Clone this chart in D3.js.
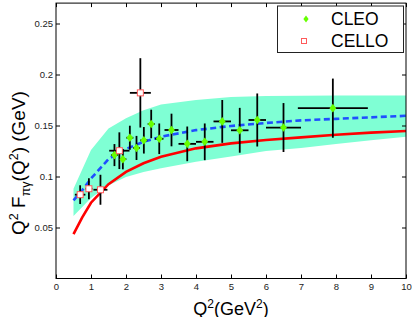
<!DOCTYPE html>
<html><head><meta charset="utf-8">
<script src="https://cdn.jsdelivr.net/npm/d3@7"></script>
<style>
html,body{margin:0;padding:0;background:#fff;}
svg text{font-family:"Liberation Sans",Arial,Helvetica,sans-serif;}
</style></head>
<body><svg id="c" width="415" height="317"></svg>
<script>
// ---- data ----
const cleoQ2   = [1.67, 1.91, 2.11, 2.30, 2.51, 2.72, 2.95, 3.30, 3.75, 4.25, 4.75, 5.25, 5.75, 6.50, 7.91];
const cleoF    = [0.121, 0.117, 0.138, 0.128, 0.1355, 0.1515, 0.137, 0.1456, 0.132, 0.134, 0.154, 0.1453, 0.1554, 0.148, 0.167];
const cleoErrY = [0.0108, 0.010, 0.0118, 0.0118, 0.013, 0.014, 0.015, 0.016, 0.017, 0.018, 0.021, 0.022, 0.026, 0.024, 0.029];
const cleoErrX = [0.1, 0.1, 0.1, 0.1, 0.1, 0.1, 0.12, 0.2, 0.25, 0.25, 0.25, 0.25, 0.25, 0.5, 1.0];

const celloQ2   = [0.69, 0.94, 1.27, 1.81, 2.41];
const celloF    = [0.0822, 0.088, 0.087, 0.1253, 0.182];
const celloErrY = [0.0092, 0.0103, 0.0147, 0.018, 0.034];
const celloErrX = [0.15, 0.1, 0.2, 0.29, 0.30];

const curveQ2   = [0.5, 0.75, 1, 1.5, 2, 2.5, 3, 4, 5, 6, 7, 8, 9, 10];
const redCurve  = [0.0436, 0.060, 0.0743, 0.0925, 0.1045, 0.113, 0.1194, 0.1276, 0.1325, 0.1358, 0.1384, 0.141, 0.143, 0.1446];
const blueCurve = [0.0765, 0.0865, 0.098, 0.117, 0.127, 0.134, 0.139, 0.1455, 0.1495, 0.1525, 0.155, 0.1565, 0.158, 0.1595];

const bandQ2   = [0.5, 1, 1.5, 2, 2.5, 3, 4, 5, 6, 7, 8, 9, 10];
const bandLow  = [0.0613, 0.079, 0.0915, 0.0995, 0.1045, 0.108, 0.1145, 0.1195, 0.125, 0.128, 0.1318, 0.1355, 0.139];
const bandHigh = [0.088, 0.126, 0.147, 0.157, 0.165, 0.1705, 0.175, 0.178, 0.179, 0.1792, 0.1794, 0.1795, 0.1795];

const xTicks = [0, 1, 2, 3, 4, 5, 6, 7, 8, 9, 10];
const xTickLabels = ["0", "1", "2", "3", "4", "5", "6", "7", "8", "9", "10"];
const yTicks = [0.05, 0.1, 0.15, 0.2, 0.25];
const yTickLabels = ["0.05", "0.1", "0.15", "0.2", "0.25"];
const legendLabels = ["CLEO", "CELLO"];

// ---- layout ----
const svg = d3.select("#c");
const L = 56, R = 406, T = 3.1, B = 278.5;
const x = d3.scaleLinear().domain([0, 10]).range([L, R]);
const y = d3.scaleLinear().domain([0, 0.27]).range([B, T]);

// band
const band = bandQ2.map((q, i) => ({q, lo: bandLow[i], hi: bandHigh[i]}));
svg.append("path").datum(band)
  .attr("d", d3.area().x(d => x(d.q)).y0(d => y(d.lo)).y1(d => y(d.hi)))
  .attr("fill", "#7fffd4").attr("stroke", "none");

// curves
const line = d3.line().x(d => x(d[0])).y(d => y(d[1]));
svg.append("path").datum(curveQ2.map((q, i) => [q, redCurve[i]]))
  .attr("d", line).attr("fill", "none").attr("stroke", "#ff0000").attr("stroke-width", 2.6);
svg.append("path").datum(curveQ2.map((q, i) => [q, blueCurve[i]]))
  .attr("d", line).attr("fill", "none").attr("stroke", "#1f4fff").attr("stroke-width", 2.6)
  .attr("stroke-dasharray", "6,3.5");

// error bars
function errBars(qs, fs, ey, ex) {
  const g = svg.append("g").attr("stroke", "#000").attr("stroke-width", 1.8);
  qs.forEach((q, i) => {
    g.append("line").attr("x1", x(q)).attr("x2", x(q)).attr("y1", y(fs[i] - ey[i])).attr("y2", y(fs[i] + ey[i]));
    g.append("line").attr("x1", x(q - ex[i])).attr("x2", x(q + ex[i])).attr("y1", y(fs[i])).attr("y2", y(fs[i]));
  });
}
errBars(celloQ2, celloF, celloErrY, celloErrX);
errBars(cleoQ2, cleoF, cleoErrY, cleoErrX);

// markers
const diamond = (cx, cy, w, h) => `M${cx},${cy - h}L${cx + w},${cy}L${cx},${cy + h}L${cx - w},${cy}Z`;
svg.append("g").selectAll("path").data(cleoQ2).join("path")
  .attr("d", (q, i) => diamond(x(q), y(cleoF[i]), 3.4, 4.3))
  .attr("fill", "#66ff00");
svg.append("g").selectAll("rect").data(celloQ2).join("rect")
  .attr("x", q => x(q) - 3).attr("y", (q, i) => y(celloF[i]) - 3)
  .attr("width", 6).attr("height", 6)
  .attr("fill", "#fff").attr("stroke", "#ff5a5a").attr("stroke-width", 1);

// axes
const fmtX = d => xTickLabels[xTicks.indexOf(d)];
const fmtY = d => yTickLabels[yTicks.indexOf(d)];
function styleAxis(g) {
  g.select(".domain").remove();
  g.selectAll("line").attr("stroke", "#000");
  g.selectAll("text").attr("font-size", 9.5).attr("fill", "#222")
    .style("font-family", "'Liberation Sans',Arial,sans-serif");
}
svg.append("g").attr("transform", `translate(0,${B})`)
  .call(d3.axisBottom(x).tickValues(xTicks).tickFormat(fmtX).tickSizeInner(-4).tickSizeOuter(0).tickPadding(4.5))
  .call(styleAxis);
svg.append("g").attr("transform", `translate(0,${T})`)
  .call(d3.axisTop(x).tickValues(xTicks).tickFormat("").tickSizeInner(-4).tickSizeOuter(0))
  .call(styleAxis);
svg.append("g").attr("transform", `translate(${L},0)`)
  .call(d3.axisLeft(y).tickValues(yTicks).tickFormat(fmtY).tickSizeInner(-4).tickSizeOuter(0).tickPadding(3))
  .call(styleAxis);
svg.append("g").attr("transform", `translate(${R},0)`)
  .call(d3.axisRight(y).tickValues(yTicks).tickFormat("").tickSizeInner(-4).tickSizeOuter(0))
  .call(styleAxis);
svg.append("rect").attr("x", L).attr("y", T).attr("width", R - L).attr("height", B - T)
  .attr("fill", "none").attr("stroke", "#000").attr("stroke-width", 1);

// legend
const lg = svg.append("g");
lg.append("rect").attr("x", 277.5).attr("y", 6).attr("width", 126).attr("height", 46.5)
  .attr("fill", "#fff").attr("stroke", "#222").attr("stroke-width", 1);
lg.append("path").attr("d", diamond(306, 19, 2.6, 3.6)).attr("fill", "#66ff00");
lg.append("rect").attr("x", 301.5).attr("y", 38.5).attr("width", 5).attr("height", 5)
  .attr("fill", "#fff").attr("stroke", "#ff5a5a").attr("stroke-width", 1);
lg.selectAll("text").data(legendLabels).join("text")
  .attr("x", 331).attr("y", (d, i) => i === 0 ? 25 : 46.5)
  .attr("font-size", 17.5).attr("fill", "#000").text(d => d);

// axis labels
const xl = svg.append("text").attr("x", 231).attr("y", 314.5).attr("text-anchor", "middle")
  .attr("font-size", 18).attr("fill", "#000");
xl.append("tspan").text("Q");
xl.append("tspan").attr("dy", -7).attr("font-size", 12).text("2");
xl.append("tspan").attr("dy", 7).text("(GeV");
xl.append("tspan").attr("dy", -7).attr("font-size", 12).text("2");
xl.append("tspan").attr("dy", 7).text(")");

const yl = svg.append("text").attr("transform", "translate(25,163) rotate(-90)")
  .attr("text-anchor", "middle").attr("font-size", 19).attr("fill", "#000");
yl.append("tspan").text("Q");
yl.append("tspan").attr("dy", -7.5).attr("font-size", 12.5).text("2");
yl.append("tspan").attr("dy", 7.5).text("\u00a0F");
yl.append("tspan").attr("dy", 5).attr("font-size", 12.5).text("\u03c0\u03b3");
yl.append("tspan").attr("dy", -5).text("(Q");
yl.append("tspan").attr("dy", -7.5).attr("font-size", 12.5).text("2");
yl.append("tspan").attr("dy", 7.5).text(") (GeV)");
</script></body></html>
